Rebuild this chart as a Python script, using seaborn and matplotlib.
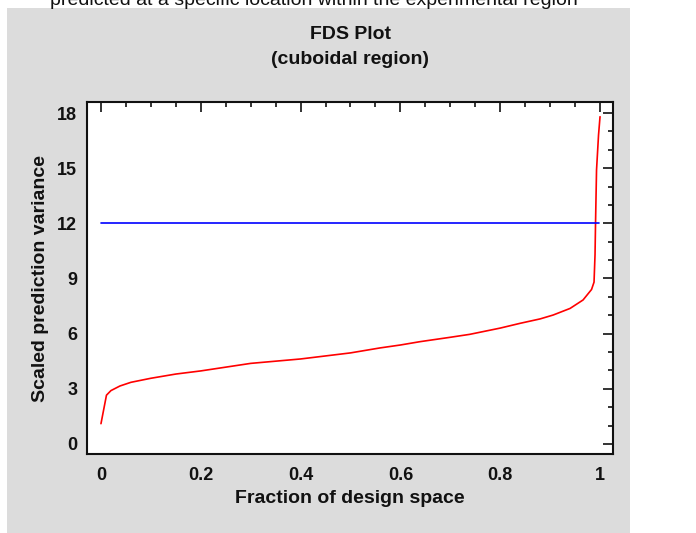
import matplotlib
matplotlib.use("Agg")
import matplotlib.pyplot as plt
from matplotlib.patches import Rectangle
from matplotlib.ticker import MultipleLocator
import seaborn as sns

# FDS curve
fraction = [0.0, 0.011, 0.02, 0.038, 0.06, 0.1, 0.15, 0.2, 0.3, 0.4, 0.5,
            0.559, 0.6, 0.639, 0.7, 0.739, 0.8, 0.84, 0.88, 0.906, 0.94,
            0.966, 0.983, 0.988, 0.990, 0.991, 0.993, 0.997, 1.0]
variance = [1.1, 2.65, 2.9, 3.15, 3.35, 3.57, 3.8, 3.97, 4.38, 4.62, 4.95,
            5.22, 5.38, 5.56, 5.8, 5.96, 6.3, 6.56, 6.8, 7.01, 7.37,
            7.83, 8.4, 8.8, 10.3, 12.0, 14.9, 16.8, 17.8]
ref_x = [0.0, 0.998]
ref_y = [12, 12]

sns.set_theme(style="white")
plt.rcParams["font.family"] = ["Liberation Sans", "DejaVu Sans"]
plt.rcParams["font.weight"] = "bold"

fig = plt.figure(figsize=(6.96, 5.33), dpi=100)
fig.patch.set_facecolor("white")
fig.patches.append(Rectangle((7 / 696, 0), 623 / 696, 525 / 533, transform=fig.transFigure,
                             facecolor="#dcdcdc", edgecolor="none", zorder=-10))
fig.text(50 / 696, 1 - 5 / 533, "predicted at a specific location within the experimental region",
         fontsize=14, va="baseline", ha="left", color="#111111", fontweight="normal")

ax = fig.add_axes([87 / 696, 79 / 533, 526 / 696, 352 / 533])
ax.set_facecolor("white")
sns.lineplot(x=fraction, y=variance, color="red", linewidth=1.2, ax=ax)
sns.lineplot(x=ref_x, y=ref_y, color="blue", linewidth=1.2, ax=ax)

ax.set_xlim(-0.028, 1.026)
ax.set_ylim(-0.55, 18.6)
ax.xaxis.set_major_locator(MultipleLocator(0.2))
ax.xaxis.set_minor_locator(MultipleLocator(0.05))
ax.yaxis.set_major_locator(MultipleLocator(3))
ax.yaxis.set_minor_locator(MultipleLocator(1))
ax.set_xticks([0, 0.2, 0.4, 0.6, 0.8, 1.0], ["0", "0.2", "0.4", "0.6", "0.8", "1"])
ax.tick_params(which="both", direction="in", top=True, right=True, colors="#111111",
               labelsize=13, width=1.2)
ax.tick_params(which="major", length=7)
ax.tick_params(which="minor", length=3.5)
ax.tick_params(axis="x", which="major", pad=9)
ax.tick_params(axis="y", which="major", pad=7)
for s in ax.spines.values():
    s.set_color("#111111")
    s.set_linewidth(1.5)

ax.set_xlabel("Fraction of design space", fontsize=14, fontweight="bold", color="#111111", labelpad=5)
ax.set_ylabel("Scaled prediction variance", fontsize=14, fontweight="bold", color="#111111", labelpad=6)
ax.set_title("FDS Plot\n(cuboidal region)", fontsize=14, fontweight="bold", color="#111111",
             pad=27.5, linespacing=1.6)

fig.savefig("out.png", dpi=100)
